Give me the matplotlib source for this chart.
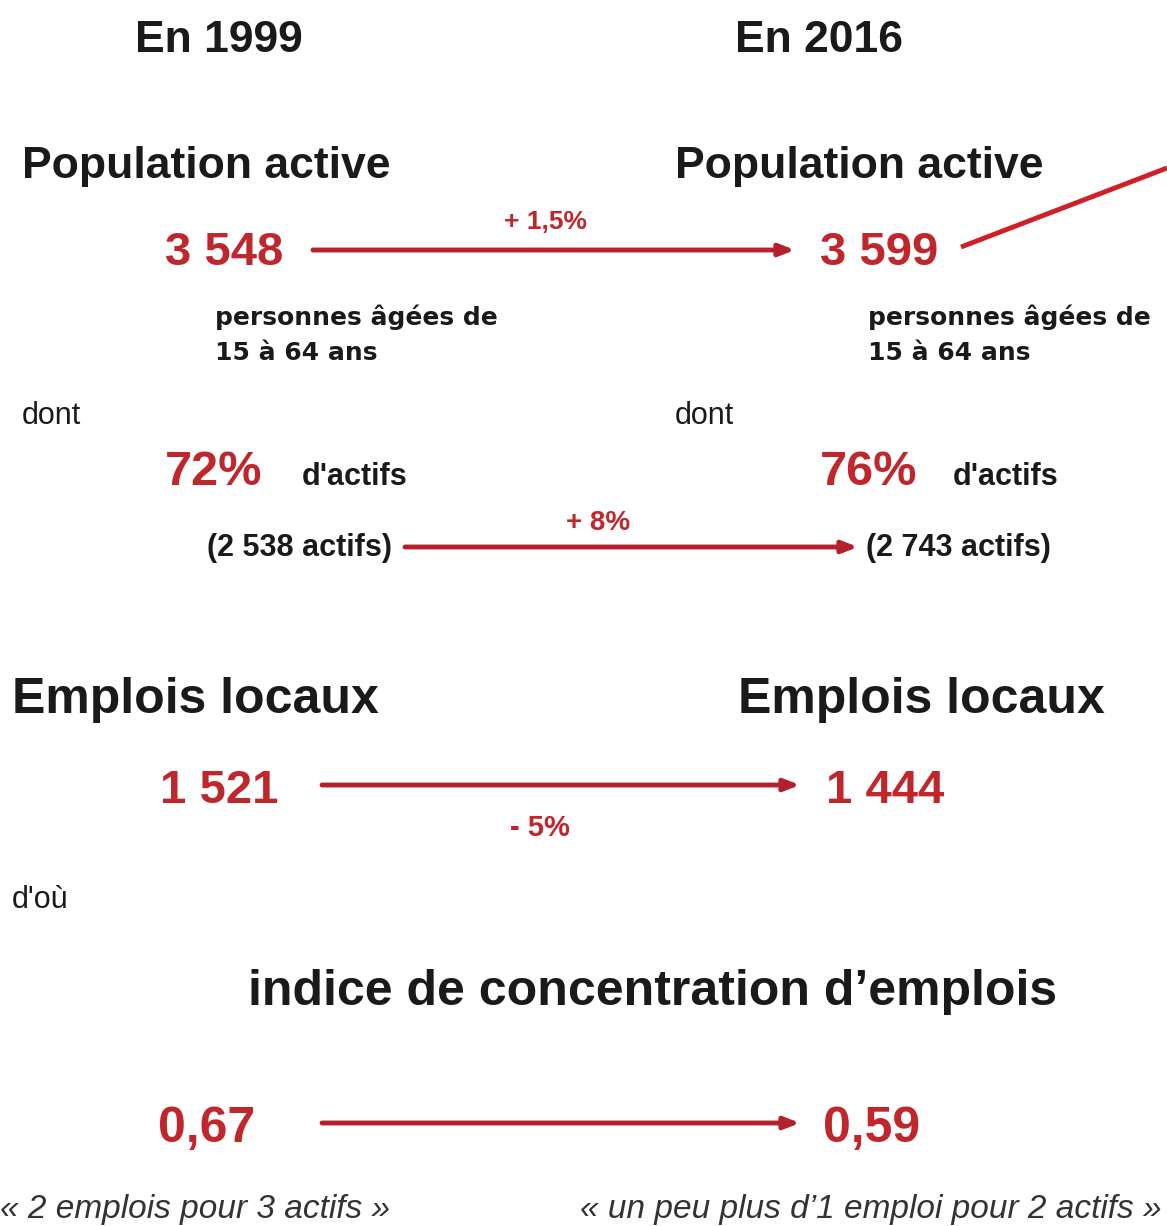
import matplotlib.pyplot as plt

# chart values
years = ["1999", "2016"]
pop_active = ["3 548", "3 599"]
part_actifs = ["72%", "76%"]
nb_actifs = ["(2 538 actifs)", "(2 743 actifs)"]
emplois = ["1 521", "1 444"]
indice = ["0,67", "0,59"]
variations = ["+ 1,5%", "+ 8%", "- 5%"]
phrases = ["« 2 emplois pour 3 actifs »", "« un peu plus d’1 emploi pour 2 actifs »"]

RED = "#c0272d"
ARROW = "#b3222c"
BLACK = "#1a1a1a"
SANS = "Liberation Sans"

W, H = 1167, 1226
fig = plt.figure(figsize=(W / 100, H / 100), dpi=100)
ax = fig.add_axes([0, 0, 1, 1])
ax.set_xlim(0, W)
ax.set_ylim(H, 0)
ax.axis("off")


def txt(x, y, s, size, color=BLACK, weight="bold", family=SANS, style="normal", ha="left"):
    ax.text(x, y, s, fontsize=size, color=color, fontweight=weight, family=family,
            style=style, ha=ha, va="baseline")


def arrow(x0, x1, y):
    ax.annotate("", xy=(x1, y), xytext=(x0, y),
                arrowprops=dict(arrowstyle="-|>,head_length=0.9,head_width=0.35",
                                color=ARROW, lw=3.5, shrinkA=0, shrinkB=0))


# columns: left = 1999, right = 2016
col_x = [0, 653]

for i, yr in enumerate(years):
    dx = col_x[i]
    txt([135, 735][i], 52, "En " + yr, 32)
    txt(22 + dx, 178, "Population active", 32)
    txt(165 + dx * (655 / 653), 265, pop_active[i], 34, color=RED)
    txt(215 + dx, 325, "personnes âgées de", 18, family="DejaVu Sans")
    txt(215 + dx, 360, "15 à 64 ans", 18, family="DejaVu Sans")
    txt(22 + dx, 424, "dont", 22, weight="normal")
    txt([165, 820][i], 485, part_actifs[i], 35, color=RED)
    txt([302, 953][i], 485, "d'actifs", 22)
    txt([207, 866][i], 556, nb_actifs[i], 22)
    txt([12, 738][i], 713, "Emplois locaux", 36)
    txt([160, 826][i], 803, emplois[i], 34, color=RED)
    txt([158, 823][i], 1142, indice[i], 36, color=RED)
    txt([0, 580][i], 1218, phrases[i], 24, weight="normal", style="italic", color="#333333")

# variations between the two years
arrow(313, 795, 250)
txt(546, 229, variations[0], 19, color=RED, ha="center")
arrow(405, 858, 547)
txt(598, 530, variations[1], 20, color=RED, ha="center")
arrow(322, 800, 785)
txt(540, 836, variations[2], 21, color=RED, ha="center")

txt(12, 908, "d'où", 22, weight="normal")
txt(248, 1005, "indice de concentration d’emplois", 36)
arrow(322, 800, 1123)

# pointer line leaving the picture on the right
ax.plot([961, 1167], [247, 168], color="#d01f26", lw=3.5, solid_capstyle="butt")

fig.savefig("out.png", dpi=100, facecolor="white")
